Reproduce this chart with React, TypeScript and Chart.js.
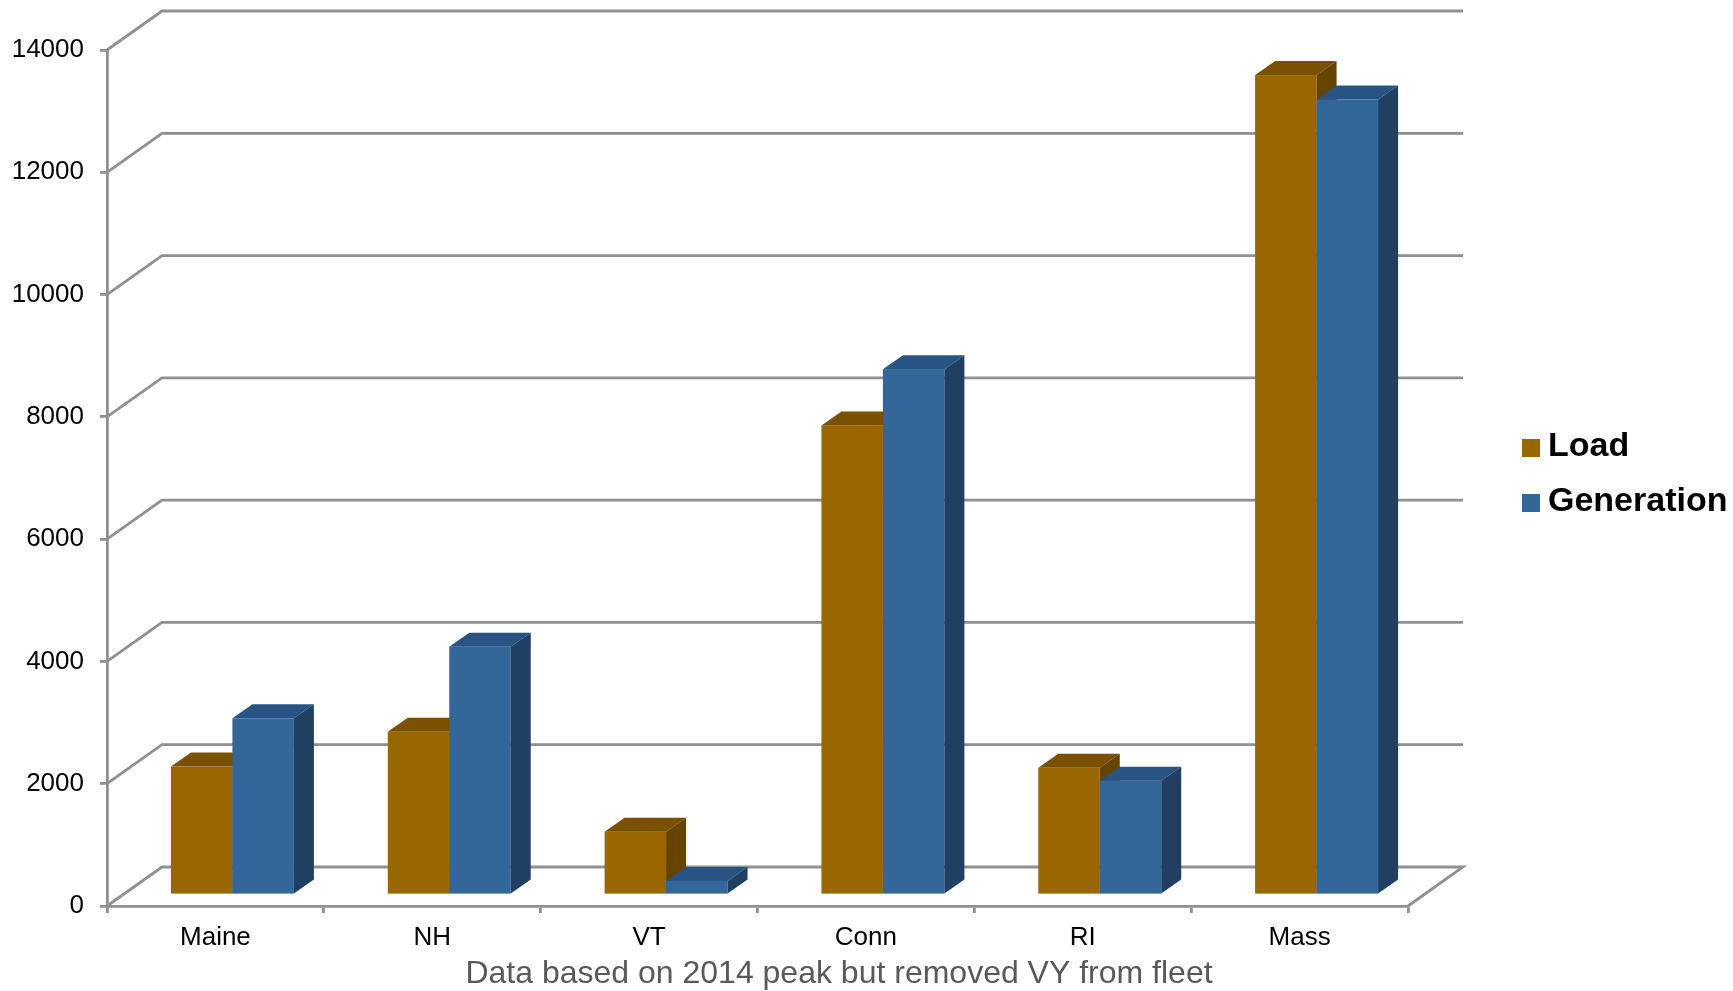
import React, { useEffect, useRef } from 'react';
import { Chart, registerables } from 'chart.js';

Chart.register(...registerables);

// ---- data ----
const categories = ['Maine', 'NH', 'VT', 'Conn', 'RI', 'Mass'];
const loadValues = [2100, 2670, 1035, 7680, 2080, 13410];
const generationValues = [2890, 4060, 230, 8600, 1870, 13010];
const seriesNames = ['Load', 'Generation'];
const yMin = 0;
const yMax = 14000;
const yStep = 2000;
const footnote = 'Data based on 2014 peak but removed VY from fleet';

// ---- style ----
const FONT = '"Liberation Sans", Arial, Helvetica, sans-serif';
const GRID = '#909090';
const FRONT = ['#996600', '#336699'];
const TOP = ['#7a5100', '#285484'];
const SIDE = ['#654300', '#203f62'];
const WALL_DX = 55;
const WALL_DY = 39;
const BAR_OX = 17;
const BAR_OY = -11;
const DEPTH_DX = 20;
const DEPTH_DY = 14;
const LINE_W = 2.8;

const threeD = {
  id: 'threeD',
  beforeDatasetsDraw(chart: any) {
    const { ctx, chartArea, scales } = chart;
    const ys = scales.y;
    ctx.save();
    ctx.strokeStyle = GRID;
    ctx.lineWidth = LINE_W;
    ctx.lineJoin = 'miter';
    ys.ticks.forEach((t: any) => {
      const py = ys.getPixelForValue(t.value);
      ctx.beginPath();
      ctx.moveTo(chartArea.left, py);
      ctx.lineTo(chartArea.left + WALL_DX, py - WALL_DY);
      ctx.lineTo(chartArea.right + WALL_DX, py - WALL_DY);
      if (t.value === yMin) ctx.lineTo(chartArea.right, py);
      ctx.stroke();
    });

    const metas = chart.data.datasets.map((_: any, i: number) => chart.getDatasetMeta(i));
    const n = chart.data.labels.length;
    for (let i = 0; i < n; i++) {
      for (let d = 0; d < metas.length; d++) {
        const el = metas[d].data[i];
        if (!el) continue;
        const p = el.getProps(['x', 'y', 'base', 'width'], true);
        const l = p.x - p.width / 2 + BAR_OX;
        const r = p.x + p.width / 2 + BAR_OX;
        const t = p.y + BAR_OY;
        const b = p.base + BAR_OY;
        // front
        ctx.fillStyle = FRONT[d];
        ctx.fillRect(l, t, r - l, b - t);
        // top
        ctx.fillStyle = TOP[d];
        ctx.beginPath();
        ctx.moveTo(l, t);
        ctx.lineTo(l + DEPTH_DX, t - DEPTH_DY);
        ctx.lineTo(r + DEPTH_DX, t - DEPTH_DY);
        ctx.lineTo(r, t);
        ctx.closePath();
        ctx.fill();
        // side
        ctx.fillStyle = SIDE[d];
        ctx.beginPath();
        ctx.moveTo(r, t);
        ctx.lineTo(r + DEPTH_DX, t - DEPTH_DY);
        ctx.lineTo(r + DEPTH_DX, b - DEPTH_DY);
        ctx.lineTo(r, b);
        ctx.closePath();
        ctx.fill();
      }
    }
    ctx.restore();
    return false;
  },
  afterDraw(chart: any) {
    const { ctx } = chart;
    ctx.save();
    // legend
    const rows = [448, 503];
    chart.data.datasets.forEach((ds: any, i: number) => {
      ctx.fillStyle = ds.backgroundColor;
      ctx.fillRect(1522, rows[i] - 9, 18, 18);
      ctx.fillStyle = '#000';
      ctx.font = `bold 34px ${FONT}`;
      ctx.textAlign = 'left';
      ctx.textBaseline = 'middle';
      ctx.fillText(ds.label, 1548, rows[i] - 1);
    });
    // footnote
    ctx.fillStyle = '#595959';
    ctx.font = `32px ${FONT}`;
    ctx.textAlign = 'center';
    ctx.textBaseline = 'middle';
    ctx.fillText(footnote, 839, 974);
    ctx.restore();
  },
};

export default function App() {
  const ref = useRef<HTMLCanvasElement | null>(null);
  useEffect(() => {
    if (!ref.current) return;
    const chart = new Chart(ref.current, {
      type: 'bar',
      data: {
        labels: categories,
        datasets: [
          { label: seriesNames[0], data: loadValues, backgroundColor: FRONT[0] },
          { label: seriesNames[1], data: generationValues, backgroundColor: FRONT[1] },
        ],
      },
      options: {
        animation: false,
        responsive: true,
        maintainAspectRatio: false,
        layout: { padding: { left: 0, top: 50, right: 325, bottom: 0 } },
        plugins: { legend: { display: false }, tooltip: { enabled: false }, title: { display: false } },
        datasets: { bar: { categoryPercentage: 0.567, barPercentage: 1 } },
        scales: {
          x: {
            offset: true,
            grid: { offset: true, drawOnChartArea: false, drawTicks: true, tickLength: 7, color: GRID, lineWidth: LINE_W },
            border: { display: true, color: GRID, width: LINE_W },
            ticks: { color: '#000', font: { family: FONT, size: 26 }, padding: 9 },
            afterFit: (s: any) => { s.height = 85; },
          },
          y: {
            min: yMin,
            max: yMax,
            ticks: {
              stepSize: yStep,
              color: '#000',
              font: { family: FONT, size: 26 },
              padding: 16,
              callback: (v: any) => String(v),
            },
            grid: { drawOnChartArea: false, drawTicks: true, tickLength: 7, color: GRID, lineWidth: LINE_W },
            border: { display: true, color: GRID, width: LINE_W },
            afterFit: (s: any) => { s.width = 107; },
          },
        },
      },
      plugins: [threeD],
    });
    return () => chart.destroy();
  }, []);
  return (
    <div style={{ position: 'fixed', left: 0, top: 0, width: 1733, height: 991, background: '#fff' }}>
      <canvas ref={ref} />
    </div>
  );
}
